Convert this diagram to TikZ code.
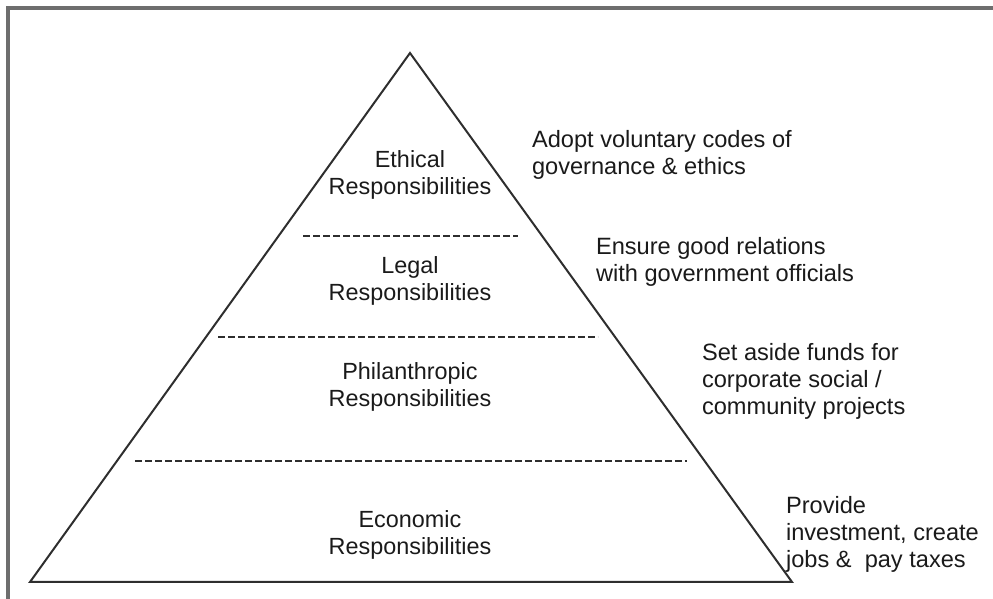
\documentclass[tikz,border=0pt]{standalone}
\usepackage{fontspec}
\setmainfont{Liberation Sans}
\usetikzlibrary{positioning}

\definecolor{framegray}{HTML}{6E6E6E}
\definecolor{linegray}{HTML}{2E2E2E}
\definecolor{textgray}{HTML}{1A1A1A}

\tikzset{
    level/.style={align=center, text=textgray, font=\fontsize{11.7}{13.5}\selectfont},
    action/.style={align=left, anchor=west, text=textgray, font=\fontsize{11.8}{13.5}\selectfont},
    divider/.style={linegray, line width=0.6pt, dash pattern=on 3.3pt off 1.7pt}
}

\begin{document}
\begin{tikzpicture}[x=0.5pt, y=-0.5pt]
    \useasboundingbox (0,0) rectangle (993,599);
    \clip (0,0) rectangle (993,599);

    % frame
    \draw[framegray, line width=1.6pt] (8,610) -- (8,8) -- (1000,8);

    % pyramid
    \coordinate (apex) at (410,53);
    \coordinate (bl) at (30,582);
    \coordinate (br) at (792,582);
    \draw[linegray, line width=1pt, line join=miter] (apex) -- (br) -- (bl) -- cycle;

    % dividers
    \coordinate (d1l) at (303,236);
    \coordinate (d1r) at (518,236);
    \coordinate (d2l) at (218,337);
    \coordinate (d2r) at (598,337);
    \coordinate (d3l) at (135,461);
    \coordinate (d3r) at (687,461);
    \draw[divider] (d1l) -- (d1r);
    \draw[divider] (d2l) -- (d2r);
    \draw[divider] (d3l) -- (d3r);

    % levels
    \node[level] (ethical) at (410,175) {Ethical\\Responsibilities};
    \node[level] (legal) at (410,281) {Legal\\Responsibilities};
    \node[level] (philan) at (410,387) {Philanthropic\\Responsibilities};
    \node[level] (economic) at (410,535) {Economic\\Responsibilities};

    % actions
    \node[action] (adopt) at (525,155) {Adopt voluntary codes of\\governance \& ethics};
    \node[action] (ensure) at (589,262) {Ensure good relations\\with government officials};
    \node[action] (funds) at (695,381) {Set aside funds for\\corporate social /\\community projects};
    \node[action] (invest) at (779,534) {Provide\\investment, create\\jobs \&\ \ pay taxes};
\end{tikzpicture}
\end{document}
